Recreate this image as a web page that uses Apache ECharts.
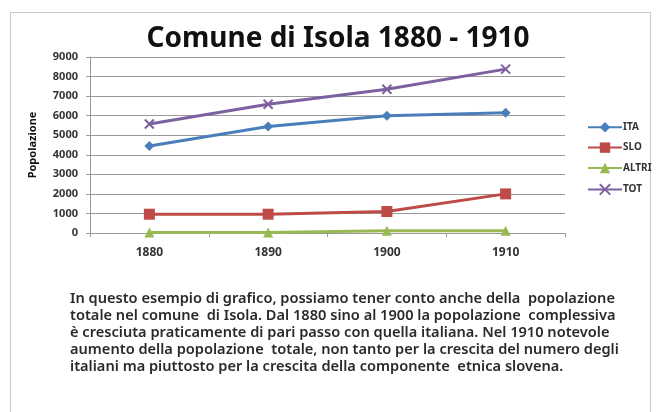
<!DOCTYPE html>
<html>
<head>
<meta charset="utf-8">
<script src="https://cdn.jsdelivr.net/npm/echarts@6/dist/echarts.min.js"></script>
<style>
html,body{margin:0;padding:0;background:#fff;}
#chart{width:662px;height:412px;}
</style>
</head>
<body>
<div id="chart"></div>
<script>
var anni = ['1880', '1890', '1900', '1910'];
var ita = [4450, 5450, 6000, 6150];
var slo = [960, 960, 1100, 2000];
var altri = [20, 20, 120, 120];
var tot = [5570, 6580, 7350, 8380];
var yTicks = [0, 9000, 1000];

var testo = 'In questo esempio di grafico, possiamo tener conto anche della  popolazione\n' +
	'totale nel comune  di Isola. Dal 1880 sino al 1900 la popolazione  complessiva\n' +
	'è cresciuta praticamente di pari passo con quella italiana. Nel 1910 notevole\n' +
	'aumento della popolazione  totale, non tanto per la crescita del numero degli\n' +
	'italiani ma piuttosto per la crescita della componente  etnica slovena.';

var font = '"Noto Sans", sans-serif';

function serie(nome, dati, colore, simbolo, size){
	return {
		name: nome,
		type: 'line',
		data: dati,
		symbol: simbolo,
		symbolSize: size,
		lineStyle: {color: colore, width: 3},
		itemStyle: {color: colore, borderColor: colore, borderWidth: simbolo.indexOf('path') === 0 ? 2 : 0},
		emphasis: {disabled: true}
	};
}

var chart = echarts.init(document.getElementById('chart'));
var option = {
	animation: false,
	backgroundColor: '#fff',
	title: {
		text: 'Comune di Isola 1880 - 1910',
		left: 333,
		top: 20,
		textAlign: 'center',
		textStyle: {fontFamily: font, fontWeight: 'bold', fontSize: 28, color: '#111'}
	},
	legend: {
		orient: 'vertical',
		left: 582,
		top: 117,
		itemGap: 10,
		itemWidth: 34,
		itemHeight: 13,
		textStyle: {fontFamily: font, fontSize: 10, fontWeight: 'bold', color: '#333', padding: [0, 0, 0, -4]},
		data: ['ITA', 'SLO', 'ALTRI', 'TOT']
	},
	grid: {left: 90, right: 97, top: 57, bottom: 179, containLabel: false},
	xAxis: {
		type: 'category',
		data: anni,
		boundaryGap: true,
		axisLine: {lineStyle: {color: '#999', width: 1}},
		axisTick: {show: true, length: 4, lineStyle: {color: '#999'}},
		axisLabel: {fontFamily: font, fontSize: 12, fontWeight: 'bold', color: '#333', margin: 14}
	},
	yAxis: {
		type: 'value',
		min: yTicks[0],
		max: yTicks[1],
		interval: yTicks[2],
		name: 'Popolazione',
		nameLocation: 'middle',
		nameGap: 52,
		nameTextStyle: {fontFamily: font, fontSize: 11, fontWeight: 'bold', color: '#111'},
		axisLine: {show: true, lineStyle: {color: '#999'}},
		axisTick: {show: true, length: 4, lineStyle: {color: '#999'}},
		axisLabel: {fontFamily: font, fontSize: 11, fontWeight: 'bold', color: '#333', margin: 12, formatter: function(v){ return String(v); }},
		splitLine: {lineStyle: {color: '#999', width: 1}}
	},
	series: [
		serie('ITA', ita, '#4a7ebb', 'diamond', 10),
		serie('SLO', slo, '#be4b48', 'rect', 11),
		serie('ALTRI', altri, '#98b954', 'triangle', 10),
		serie('TOT', tot, '#7d60a0', 'path://M0,0L10,10M10,0L0,10', 9)
	],
	graphic: [
		{
			type: 'rect',
			shape: {x: 10.5, y: 12.5, width: 640, height: 420},
			style: {fill: 'none', stroke: '#c8c8c8', lineWidth: 1},
			silent: true
		},
		{
			type: 'text',
			left: 70,
			top: 290,
			style: {
				text: testo,
				fontFamily: font,
				fontSize: 14.6,
				fontWeight: 600,
				lineHeight: 17,
				fill: '#2a2a2a'
			}
		}
	]
};
chart.setOption(option);
</script>
</body>
</html>
